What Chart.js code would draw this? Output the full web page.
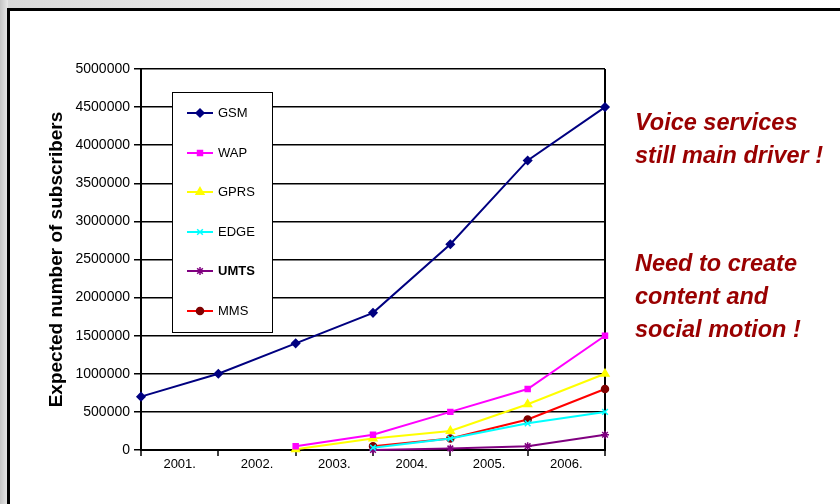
<!DOCTYPE html>
<html>
<head>
<meta charset="utf-8">
<title>Expected number of subscribers</title>
<script src="https://cdn.jsdelivr.net/npm/chart.js"></script>
<style>
body{margin:0;width:840px;height:504px;overflow:hidden;background:#fff;position:relative;font-family:Arial,"Liberation Sans",sans-serif;}
#topband{position:absolute;left:0;top:0;width:840px;height:8px;background:linear-gradient(to right,#d8d8d8,#f4f4f4 45%,#fff);}
#edge{position:absolute;left:0;top:0;width:8px;height:504px;background:linear-gradient(to right,#c4c4c4,#e8e8e8);}
#frame{position:absolute;left:7px;top:8px;width:840px;height:500px;border-top:3px solid #000;border-left:3px solid #000;background:#fff;}
#chart{position:absolute;left:0;top:0;}
#legend{position:absolute;left:172px;top:92px;width:99px;height:239px;border:1.5px solid #000;background:#fff;}
.item{position:absolute;left:13px;height:16px;font-size:13px;line-height:16px;color:#000;white-space:nowrap;}
.item canvas{vertical-align:top;margin-right:4px;}
.note{position:absolute;left:635px;color:#990000;font-style:italic;font-weight:bold;font-size:23.5px;line-height:33px;white-space:nowrap;}
</style>
</head>
<body>
<div id="topband"></div>
<div id="edge"></div>
<div id="frame"></div>
<canvas id="chart" width="840" height="504"></canvas>
<div id="legend"></div>
<div class="note" style="top:106px">Voice services<br>still main driver !</div>
<div class="note" style="top:247px">Need to create<br>content and<br>social motion !</div>
<script>
// years shown between the tick marks
var years = ['2001.', '2002.', '2003.', '2004.', '2005.', '2006.'];
// one value per tick mark (0..6), null = no data
var gsm  = [700000, 1000000, 1400000, 1800000, 2700000, 3800000, 4500000];
var wap  = [null, null, 50000, 200000, 500000, 800000, 1500000];
var gprs = [null, null, 10000, 150000, 250000, 600000, 1000000];
var edge = [null, null, null, 30000, 150000, 350000, 500000];
var umts = [null, null, null, 0, 20000, 50000, 200000];
var mms  = [null, null, null, 50000, 150000, 400000, 800000];
var yTicks = [0, 5000000, 500000];

function pts(arr) {
	var out = [];
	for (var i in arr) {
		if (arr[i] !== null) out.push({x: +i, y: arr[i]});
	}
	return out;
}

var series = [
	{label: 'GSM',  data: gsm,  line: '#000080', mark: '#000080', style: 'rectRot',  r: 4},
	{label: 'WAP',  data: wap,  line: '#ff00ff', mark: '#ff00ff', style: 'rect',     r: 3.5},
	{label: 'GPRS', data: gprs, line: '#ffff00', mark: '#ffff00', style: 'triangle', r: 4.5},
	{label: 'EDGE', data: edge, line: '#00ffff', mark: '#00ffff', style: 'crossRot', r: 4},
	{label: 'UMTS', data: umts, line: '#800080', mark: '#800080', style: 'star',     r: 4},
	{label: 'MMS',  data: mms,  line: '#ff0000', mark: '#800000', style: 'circle',   r: 3.5}
];

var datasets = series.map(function(s) {
	return {
		label: s.label,
		data: pts(s.data),
		borderColor: s.line,
		backgroundColor: s.mark,
		borderWidth: 2,
		pointStyle: s.style,
		pointRadius: s.r,
		pointBorderColor: s.mark,
		pointBackgroundColor: s.mark,
		pointBorderWidth: 1.5,
		tension: 0,
		clip: false
	};
});

var chart = new Chart(document.getElementById('chart'), {
	type: 'line',
	data: {datasets: datasets},
	options: {
		responsive: false,
		animation: false,
		events: [],
		layout: {padding: {left: 0, top: 69, right: 235, bottom: 0}},
		plugins: {legend: {display: false}, tooltip: {enabled: false}},
		scales: {
			x: {
				type: 'linear',
				min: 0,
				max: years.length,
				afterFit: function(scale) { scale.height = 54; },
				border: {display: true, color: '#000', width: 2},
				grid: {
					drawOnChartArea: true,
					color: function(c) { return c.tick && c.tick.value === years.length ? '#000' : 'rgba(0,0,0,0)'; },
					lineWidth: 2,
					tickLength: 6,
					tickColor: function(c) { return c.tick && Number.isInteger(c.tick.value) ? '#000' : 'rgba(0,0,0,0)'; },
					tickWidth: 1.5
				},
				ticks: {
					stepSize: 0.5,
					autoSkip: false,
					maxRotation: 0,
					padding: 1,
					color: '#000',
					font: {family: 'Arial, "Liberation Sans"', size: 13},
					callback: function(v) {
						return (v % 1 === 0.5) ? years[Math.floor(v)] : '';
					}
				}
			},
			y: {
				min: yTicks[0],
				max: yTicks[1],
				afterFit: function(scale) { scale.width = 141; },
				border: {display: true, color: '#000', width: 2},
				grid: {color: '#000', lineWidth: 1.5, tickLength: 7, tickColor: '#000'},
				ticks: {
					stepSize: yTicks[2],
					padding: 4,
					color: '#000',
					font: {family: 'Arial, "Liberation Sans"', size: 14},
					callback: function(v) { return String(v); }
				},
				title: {
					display: true,
					text: 'Expected number of subscribers',
					color: '#000',
					font: {family: 'Arial, "Liberation Sans"', size: 19, weight: 'bold'},
					padding: {top: 45, bottom: 0}
				}
			}
		}
	}
});

// legend box built from the datasets
var legend = document.getElementById('legend');
datasets.forEach(function(d, i) {
	var item = document.createElement('div');
	item.className = 'item';
	item.style.top = (12 + i * 39.6) + 'px';
	var c = document.createElement('canvas');
	c.width = 28; c.height = 16;
	var ctx = c.getContext('2d');
	ctx.strokeStyle = d.borderColor;
	ctx.lineWidth = 2;
	ctx.beginPath(); ctx.moveTo(1, 8); ctx.lineTo(27, 8); ctx.stroke();
	if (Chart.helpers && Chart.helpers.drawPoint) {
		ctx.fillStyle = d.pointBackgroundColor;
		ctx.strokeStyle = d.pointBorderColor;
		ctx.lineWidth = d.pointBorderWidth;
		Chart.helpers.drawPoint(ctx, {pointStyle: d.pointStyle, radius: d.pointRadius, rotation: 0, borderWidth: d.pointBorderWidth}, 14, 8);
	}
	item.appendChild(c);
	var t = document.createElement('span');
	t.textContent = d.label;
	if (d.label === 'UMTS') t.style.fontWeight = 'bold';
	item.appendChild(t);
	legend.appendChild(item);
});
</script>
</body>
</html>
